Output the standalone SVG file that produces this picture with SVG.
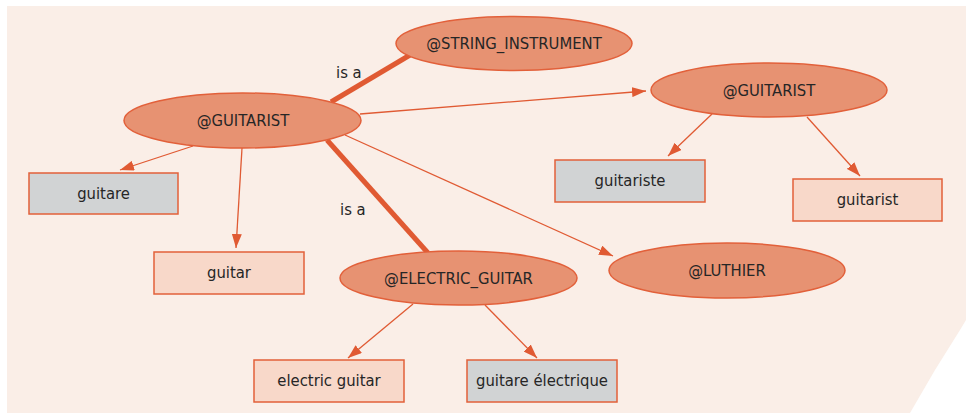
<svg xmlns="http://www.w3.org/2000/svg" width="966" height="413" viewBox="0 0 966 413">
<defs>
<marker id="ah" viewBox="0 0 14 10" refX="14" refY="5" markerWidth="14" markerHeight="10" markerUnits="userSpaceOnUse" orient="auto">
<path d="M0,0 L14,5 L0,10 z" fill="#E05A33"/>
</marker>
</defs>
<style>
.ell{fill:#E79272;stroke:#E2603A;stroke-width:1.5}
.gray{fill:#D1D3D4;stroke:#E2603A;stroke-width:1.5}
.peach{fill:#F8D8C9;stroke:#E2603A;stroke-width:1.5}
.t{font-family:"DejaVu Sans Condensed","DejaVu Sans",sans-serif;font-stretch:condensed;font-size:16.5px;fill:#262626;text-anchor:middle}
.lbl{font-family:"DejaVu Sans Condensed","DejaVu Sans",sans-serif;font-stretch:condensed;font-size:16.5px;fill:#262626}
.edge{stroke:#E05A33;stroke-width:1.3;fill:none}
.thick{stroke:#E05A33;stroke-width:5;fill:none}
</style>
<rect x="0" y="0" width="966" height="413" fill="#ffffff"/>
<rect x="7" y="6" width="959" height="407" fill="#FAEEE7"/>
<polygon points="966,320 960,330 935,370 910,413 966,413" fill="#ffffff"/>
<g id="connectors">
<line class="thick" x1="331" y1="102" x2="410" y2="55"/>
<line class="thick" x1="327" y1="140" x2="428" y2="253"/>
<line class="edge" x1="360" y1="114" x2="646" y2="91" marker-end="url(#ah)"/>
<line class="edge" x1="193" y1="146" x2="120" y2="170" marker-end="url(#ah)"/>
<line class="edge" x1="242" y1="148" x2="236" y2="248" marker-end="url(#ah)"/>
<line class="edge" x1="345" y1="135" x2="613" y2="256" marker-end="url(#ah)"/>
<line class="edge" x1="712" y1="114" x2="668" y2="156" marker-end="url(#ah)"/>
<line class="edge" x1="807" y1="117" x2="860" y2="176" marker-end="url(#ah)"/>
<line class="edge" x1="413" y1="304" x2="348" y2="358" marker-end="url(#ah)"/>
<line class="edge" x1="485" y1="305" x2="537" y2="358" marker-end="url(#ah)"/>
<text class="lbl" x="336" y="78">is a</text>
<text class="lbl" x="340" y="215">is a</text>
</g>
<g id="n_guitarist">
<ellipse class="ell" cx="242.5" cy="120.5" rx="118.5" ry="27.5"/>
<text class="t" x="243" y="126">@GUITARIST</text>
</g>
<g id="n_string_instrument">
<ellipse class="ell" cx="514" cy="43.5" rx="118" ry="27"/>
<text class="t" x="514" y="49">@STRING_INSTRUMENT</text>
</g>
<g id="n_guitarist2">
<ellipse class="ell" cx="769" cy="90" rx="118" ry="27"/>
<text class="t" x="769" y="95.5">@GUITARIST</text>
</g>
<g id="n_electric_guitar">
<ellipse class="ell" cx="458.5" cy="278" rx="118.5" ry="27"/>
<text class="t" x="458.5" y="283.5">@ELECTRIC_GUITAR</text>
</g>
<g id="n_luthier">
<ellipse class="ell" cx="727" cy="270.5" rx="118" ry="27.5"/>
<text class="t" x="727" y="276">@LUTHIER</text>
</g>
<g id="n_guitare">
<rect class="gray" x="29" y="173" width="149" height="41"/>
<text class="t" x="103.5" y="199">guitare</text>
</g>
<g id="n_guitar">
<rect class="peach" x="154" y="252" width="150" height="42"/>
<text class="t" x="229" y="278">guitar</text>
</g>
<g id="n_electric_guitar_txt">
<rect class="peach" x="254" y="360" width="150" height="42"/>
<text class="t" x="329" y="386">electric guitar</text>
</g>
<g id="n_guitare_electrique">
<rect class="gray" x="467" y="360" width="150" height="42"/>
<text class="t" x="542" y="386">guitare électrique</text>
</g>
<g id="n_guitariste">
<rect class="gray" x="555" y="160" width="150" height="42"/>
<text class="t" x="630" y="186">guitariste</text>
</g>
<g id="n_guitarist_txt">
<rect class="peach" x="793" y="179" width="149" height="42"/>
<text class="t" x="867.5" y="205">guitarist</text>
</g>
</svg>
